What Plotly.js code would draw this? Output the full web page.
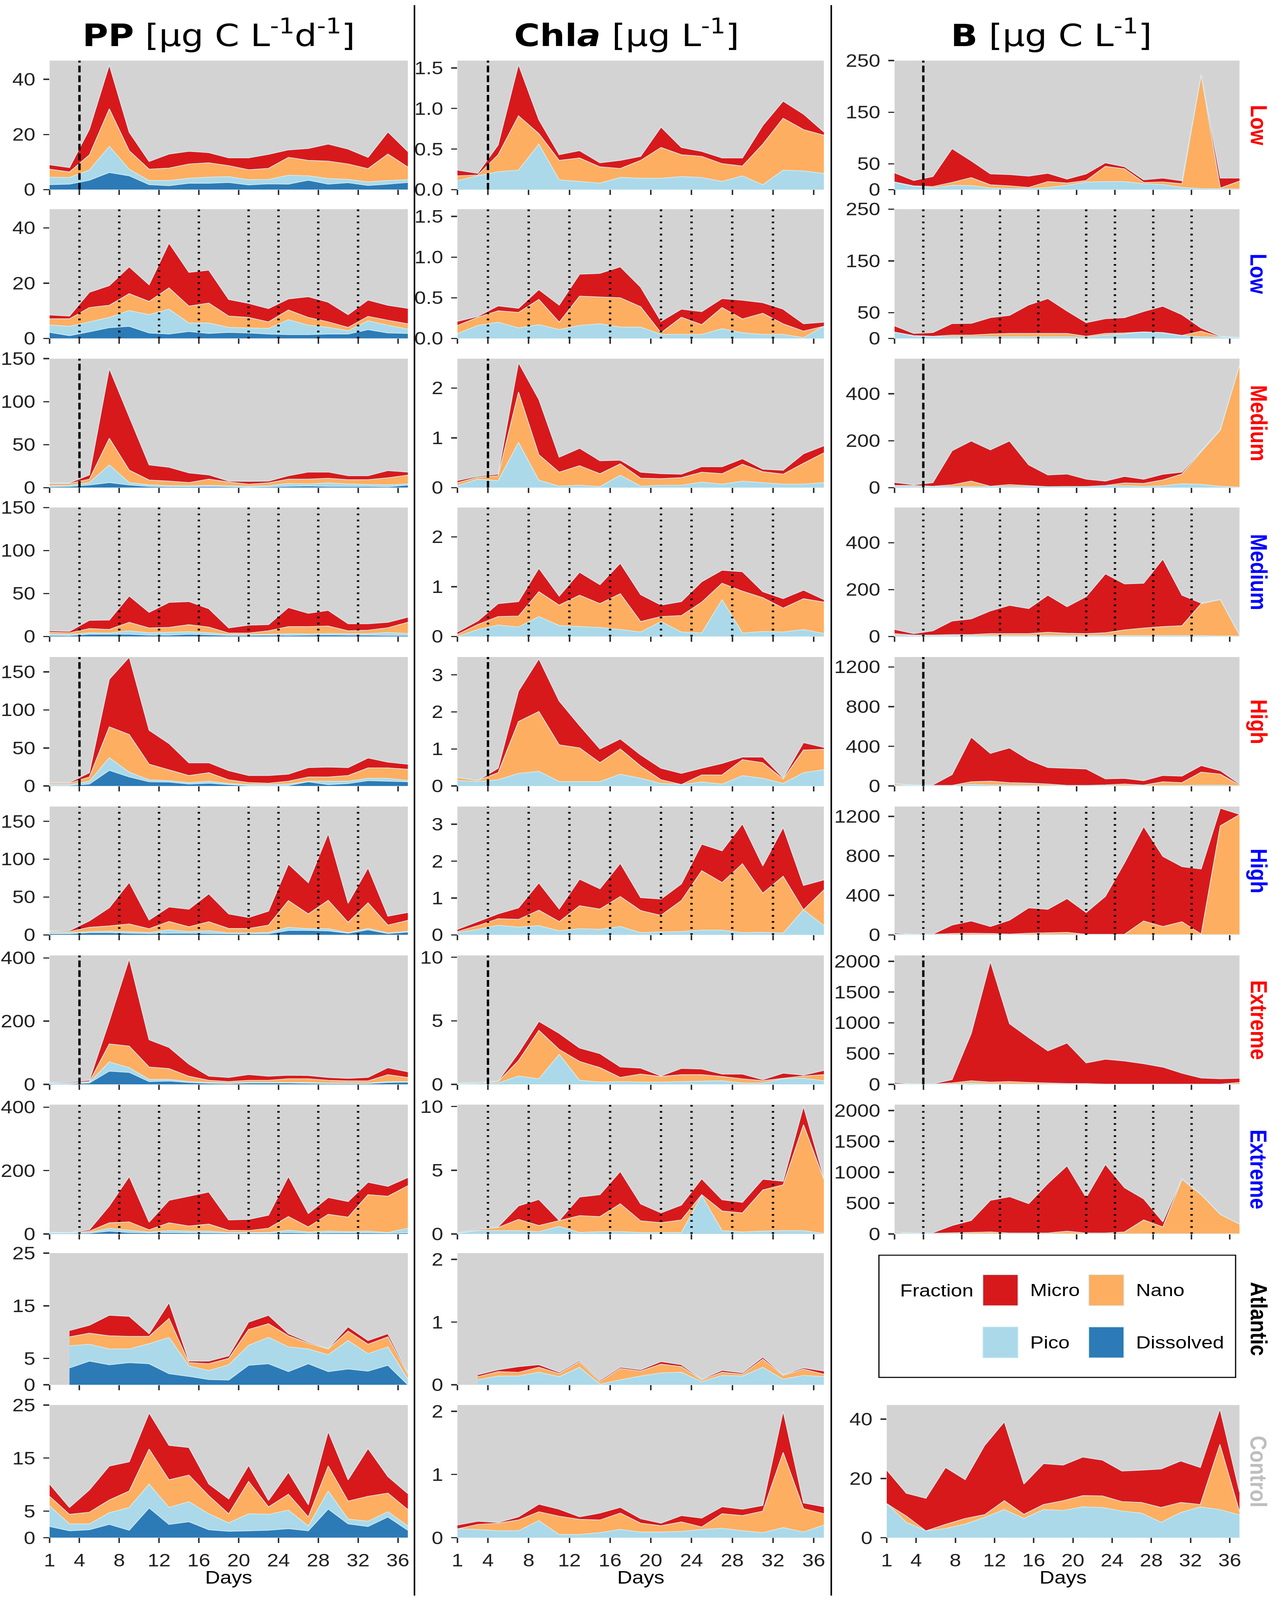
<!DOCTYPE html>
<html>
<head>
<meta charset="utf-8">
<script src="https://cdn.plot.ly/plotly-3.0.1.min.js"></script>
<style>
html,body{margin:0;padding:0;background:#ffffff;overflow:hidden;}
#chart{position:absolute;left:0;top:0;width:3269px;height:4751px;transform-origin:0 0;}
</style>
</head>
<body>
<div id="chart"></div>
<script>
// ---------------- DATA ----------------
const days = [1,3,5,7,9,11,13,15,17,19,21,23,25,27,29,31,33,35,37];
const dayTicks = [1,4,8,12,16,20,24,28,32,36];
const treatments = ['Low','Low','Medium','Medium','High','High','Extreme','Extreme','Atlantic','Control'];
const pulseDays = [4];
const additionDays = [4,8,12,16,21,24,28,32];

// PP [µg C L-1 d-1], rows = treatments (top to bottom)
const PP_Dissolved = [
 [1.8,2.0,3.4,6.2,5.0,1.8,1.4,2.3,2.3,2.6,1.7,2.1,2.0,3.4,2.0,2.5,1.5,2.0,2.6],
 [2.2,1.0,2.4,3.9,4.4,2.0,1.6,2.5,1.8,2.2,2.0,1.6,1.4,1.4,1.6,1.6,3.2,2.0,1.8],
 [1.0,1.3,3.0,5.9,3.0,1.3,1.0,1.0,1.3,1.0,0.7,1.0,1.6,2.0,1.3,1.3,1.3,1.0,3.0],
 [1.3,1.0,2.6,2.6,2.6,1.6,1.6,2.6,2.0,1.3,1.3,1.6,1.3,1.6,2.0,1.6,1.6,1.3,1.3],
 [0.7,0.7,2.6,20.5,11.9,5.6,5.2,2.6,3.7,1.9,0.7,0.7,0.7,5.6,1.9,3.3,7.1,6.3,5.6],
 [1.5,1.5,2.9,2.9,2.2,1.8,2.2,2.2,1.8,1.5,1.5,1.5,5.9,5.9,5.2,2.2,6.6,1.8,3.7],
 [1.8,1.8,4.4,42,38,8.8,10.6,6.2,3.5,2.6,4.4,4.4,4.4,3.5,2.6,2.6,2.6,6.2,7.1],
 [1.8,1.8,2.6,8.8,4.4,3.5,4.4,3.5,3.5,2.6,2.6,2.6,4.4,2.6,3.5,3.5,3.5,2.6,3.5],
 [null,3.2,4.5,3.8,4.2,4.0,2.1,1.6,1.0,0.9,3.7,4.0,2.5,4.0,2.5,3.0,2.6,3.7,0],
 [2.1,1.3,1.5,2.5,1.4,5.6,2.5,3.0,1.5,1.2,1.3,1.4,1.7,1.3,5.4,2.6,2.1,3.9,1.4]
];
const PP_Pico = [
 [2.7,2.4,3.7,9.5,2.4,1.5,1.9,1.8,2.2,2.1,1.9,1.6,3.2,1.6,2.0,1.2,1.3,1.3,1.0],
 [2.7,3.4,3.6,3.7,5.7,6.6,9.0,3.1,3.8,1.8,1.8,2.0,5.4,3.4,2.4,1.2,3.2,2.8,1.6],
 [1.3,1.3,2.9,20.5,2.9,2.0,1.3,1.3,1.3,1.3,0.9,1.3,3.3,2.3,4.3,3.0,2.3,2.3,1.3],
 [1.3,1.3,1.7,1.4,4.0,2.7,3.3,3.0,2.3,1.0,1.0,1.0,2.0,1.4,1.6,1.7,1.7,3.3,2.3],
 [1.2,1.2,3.7,16.7,6.3,2.6,1.9,1.9,2.6,1.4,1.2,1.2,1.9,0.7,4.4,3.0,2.9,3.7,1.8],
 [1.4,1.4,1.5,1.9,2.2,1.1,4.4,2.2,3.7,1.1,1.1,1.8,4.1,2.2,2.9,0.7,1.9,0.8,1.1],
 [0.8,0.8,1.8,29,15,7.2,5.4,2.6,2.7,1.8,1.8,1.8,1.8,2.7,1.8,1.8,1.8,2.6,1.7],
 [0.8,0.8,1.8,9.2,7.1,2.7,6.2,5.3,5.3,1.8,1.8,1.8,7.1,3.6,5.3,3.5,5.3,1.8,14.5],
 [null,4.2,3.2,3.0,2.6,3.8,6.9,2.0,1.7,2.9,3.8,5.0,4.7,2.8,3.2,5.4,3.3,3.5,1.1],
 [3.9,1.3,1.1,2.2,4.3,4.5,3.2,3.8,3.0,1.6,3.2,3.0,3.5,0.9,3.4,0.9,1.0,1.0,0.8]
];
const PP_Nano = [
 [2.9,2.0,5.5,13.6,6.7,4.1,4.5,5.2,5.2,4.0,3.6,4.0,6.5,5.6,6.3,5.6,4.8,9.6,4.6],
 [2.2,2.7,5.2,4.4,6.1,4.8,7.7,6.1,7.2,4.1,3.8,2.4,3.5,2.8,2.0,1.2,1.6,1.8,1.9],
 [2.6,2.3,4.0,31.0,14.5,5.6,5.3,3.6,7.3,4.3,2.4,3.3,5.0,5.6,5.3,4.9,5.6,8.2,10.2],
 [2.3,2.0,4.9,4.2,9.9,5.6,5.7,8.2,6.6,1.7,1.7,4.0,8.2,8.5,8.6,3.3,4.0,5.6,12.9],
 [1.8,1.8,5.6,40.6,49.5,20.5,14.1,9.3,11.2,4.9,2.6,1.8,3.7,5.6,5.6,7.5,13.8,13.8,14.6],
 [1.5,1.5,5.6,7.0,10.0,5.2,11.1,6.3,11.8,5.9,5.9,9.6,35.3,19.5,37.6,13.7,33.9,10.3,14.4],
 [1.8,1.8,2.6,57,68,39,34,17,6.8,4.4,6.8,6.8,11.8,11.8,8.6,6.6,6.6,22,13],
 [1.8,0.9,4.4,17,26.5,6.8,24.4,16.2,22.2,7.1,6.2,13.6,43.5,15.8,53.2,46,115,114.6,134],
 [null,1.7,2.1,2.5,2.4,1.4,3.6,0.6,1.3,1.2,3.0,2.6,2.1,1.1,1.1,1.8,1.8,1.9,0.9],
 [1.8,1.8,2.2,2.4,3.1,6.6,5.2,5.0,3.4,1.7,6.1,1.4,3.0,1.7,4.7,3.4,4.7,3.5,3.1]
];
const PP_Micro = [
 [1.6,1.6,9.3,15.9,6.7,2.8,5.1,4.6,3.7,2.8,4.3,5.1,2.7,4.3,6.2,5.4,4.1,8.0,5.6],
 [1.4,1.0,5.5,7.1,9.7,6.0,16.2,12.2,11.9,6.0,5.1,4.8,4.0,7.5,7.1,4.6,5.9,5.4,5.6],
 [0.7,0.7,4.9,81.1,62.0,17.5,16.1,11.2,4.9,1.0,3.3,2.0,3.9,8.2,7.2,4.6,4.6,8.3,3.6],
 [1.7,1.6,9.6,10.9,30.6,18.1,29.0,26.8,21.4,5.9,9.2,7.2,22.1,15.5,18.1,8.2,7.5,6.3,5.9],
 [0.8,0.8,5.6,62.5,101.6,44.6,34.6,16.7,13.0,11.9,9.3,10.1,9.3,12.3,13.0,10.4,13.0,7.5,6.7],
 [0.8,1.1,8.4,24.0,54.9,11.4,19.2,23.2,36.9,19.1,14.4,18.4,48.0,41.3,88.1,25.1,46.1,11.8,10.3],
 [1.6,2.6,4.2,72,276,86,67,38,13,13,18,13,11,10,9,8,11,22,18],
 [1.6,0.9,4.2,53,143,24,71,94,101,32.5,35.4,41,126,42,53,49,39,31,26],
 [null,1.2,1.5,3.9,3.8,0.5,3.0,0.3,0.5,0.5,1.4,1.6,0.4,0.2,0.1,0.8,0.7,0.6,0.3],
 [2.3,1.3,4.2,6.4,5.5,6.8,6.5,5.2,2.2,2.8,3.0,1.2,4.1,2.3,6.5,4.0,9.0,3.1,3.0]
];

// Chla [µg L-1]
const Chla_Pico = [
 [0.11,0.17,0.22,0.24,0.56,0.12,0.10,0.08,0.15,0.14,0.14,0.16,0.15,0.10,0.17,0.06,0.24,0.23,0.20],
 [0.06,0.16,0.20,0.13,0.17,0.11,0.16,0.18,0.14,0.14,0.05,0.05,0.05,0.12,0.07,0.05,0.05,0.01,0.15],
 [0.04,0.17,0.14,0.91,0.15,0.03,0.05,0.02,0.25,0.03,0.05,0.05,0.11,0.07,0.13,0.10,0.07,0.07,0.10],
 [0.00,0.14,0.23,0.19,0.40,0.22,0.20,0.18,0.14,0.09,0.30,0.09,0.07,0.74,0.07,0.10,0.09,0.14,0.06],
 [0.15,0.12,0.17,0.34,0.40,0.12,0.12,0.12,0.32,0.21,0.07,0.04,0.11,0.05,0.28,0.21,0.07,0.36,0.44],
 [0.06,0.15,0.26,0.21,0.25,0.11,0.17,0.15,0.23,0.06,0.08,0.09,0.13,0.13,0.06,0.07,0.05,0.68,0.25],
 [0.04,0.07,0.11,0.66,0.44,2.36,0.33,0.18,0.22,0.18,0.18,0.22,0.26,0.29,0.11,0.11,0.44,0.48,0.29],
 [0.04,0.26,0.26,0.26,0.18,0.59,0.11,0.18,0.18,0.11,0.11,0.11,3.01,0.26,0.15,0.22,0.26,0.26,0.04],
 [null,0.08,0.14,0.14,0.20,0.13,0.28,0.01,0.08,0.14,0.19,0.20,0.05,0.15,0.14,0.28,0.09,0.15,0.13],
 [0.14,0.13,0.11,0.11,0.27,0.05,0.05,0.08,0.13,0.09,0.09,0.10,0.13,0.15,0.11,0.08,0.16,0.09,0.20]
];
const Chla_Nano = [
 [0.06,0.01,0.21,0.67,0.13,0.24,0.29,0.20,0.11,0.22,0.38,0.27,0.26,0.22,0.12,0.50,0.64,0.51,0.47],
 [0.10,0.10,0.14,0.19,0.31,0.09,0.36,0.33,0.36,0.25,0.02,0.21,0.12,0.26,0.17,0.26,0.13,0.08,0.00],
 [0.06,0.04,0.10,1.01,0.51,0.28,0.39,0.26,0.23,0.16,0.13,0.15,0.20,0.21,0.34,0.22,0.20,0.42,0.60],
 [0.04,0.10,0.17,0.22,0.50,0.41,0.63,0.48,0.72,0.21,0.10,0.33,0.62,0.33,0.84,0.68,0.48,0.62,0.63],
 [0.08,0.03,0.19,1.40,1.61,0.99,0.91,0.51,0.68,0.33,0.10,0.00,0.19,0.25,0.43,0.42,0.12,0.61,0.55],
 [0.03,0.10,0.18,0.21,0.42,0.25,0.62,0.55,0.81,0.60,0.45,0.84,1.61,1.29,1.87,1.06,1.54,0.00,0.97],
 [0.05,0.06,0.11,1.21,3.81,0.39,1.48,1.14,0.33,0.63,0.44,0.55,0.51,0.33,0.33,0.18,0.04,0.18,0.48],
 [0.03,0.07,0.25,0.88,0.48,0.46,1.32,1.18,2.19,0.92,0.77,0.99,0.07,1.54,1.50,3.23,3.59,8.31,4.25],
 [null,0.05,0.07,0.06,0.08,0.05,0.09,0.04,0.18,0.08,0.14,0.09,0.03,0.05,0.03,0.13,0.06,0.10,0.04],
 [0.00,0.08,0.12,0.17,0.14,0.29,0.24,0.20,0.26,0.14,0.10,0.15,0.04,0.23,0.24,0.34,1.19,0.37,0.18]
];
const Chla_Micro = [
 [0.07,0.02,0.12,0.63,0.17,0.07,0.09,0.05,0.10,0.05,0.25,0.09,0.06,0.07,0.10,0.23,0.21,0.19,0.04],
 [0.05,0.01,0.06,0.05,0.12,0.21,0.27,0.29,0.38,0.24,0.14,0.10,0.16,0.11,0.23,0.13,0.18,0.09,0.05],
 [0.04,0.02,0.03,0.59,1.11,0.30,0.35,0.26,0.07,0.12,0.10,0.07,0.11,0.14,0.11,0.05,0.08,0.19,0.14],
 [0.05,0.07,0.26,0.29,0.47,0.18,0.46,0.38,0.61,0.54,0.23,0.28,0.41,0.26,0.39,0.12,0.19,0.17,0.05],
 [0.00,0.00,0.12,0.82,1.42,1.18,0.60,0.37,0.27,0.30,0.31,0.30,0.18,0.31,0.07,0.15,0.03,0.20,0.05],
 [0.06,0.11,0.13,0.31,0.74,0.34,0.72,0.55,0.90,0.35,0.44,0.45,0.72,0.86,1.08,0.74,1.32,0.66,0.27],
 [0.02,0.05,0.04,0.60,0.71,1.26,1.05,1.10,0.82,0.47,0.04,0.49,0.44,0.19,0.37,0.08,0.40,0.07,0.33],
 [0.04,0.07,0.04,1.06,2.04,0.00,1.47,1.72,2.53,1.32,0.77,1.16,1.25,0.88,0.83,0.84,0.28,1.43,0.11],
 [null,0.03,0.03,0.09,0.04,0.02,0.02,0.02,0.02,0.02,0.04,0.03,0.01,0.03,0.02,0.03,0.01,0.02,0.05],
 [0.06,0.05,0.01,0.05,0.12,0.11,0.04,0.11,0.09,0.07,0.04,0.10,0.14,0.11,0.10,0.09,0.65,0.09,0.11]
];

// B [µg C L-1] (no Atlantic row)
const B_Pico = [
 [14.0,6.3,3.4,8.4,8.0,3.0,2.0,2.0,4.2,8.4,14.8,15.6,15.6,11.4,9.7,4.2,2.0,1.3,1.3],
 [11.9,4.2,3.4,3.0,3.0,3.0,3.0,3.0,3.0,3.0,2.1,6.4,8.5,12.3,10.6,5.5,3.0,2.1,1.3],
 [8,4,4,4,4,4,4,4,4,4,5,8,8,5,8,17,14,6,2],
 [6,4,4,4,4,4,4,4,4,4,4,4,4,4,4,4,4,2,2],
 [5,3,3,3,15,10,8,8,5,3,3,3,3,3,5,5,8,8,3],
 [3,2,2,3,3,3,3,3,3,3,2,2,2,3,3,3,3,3,3],
 [3,2,2,5,20,8,5,5,5,3,3,3,3,3,3,3,3,3,3],
 [3,2,2,3,3,3,3,3,3,3,3,3,3,3,3,3,3,3,3],
 null,
 [11.5,5.2,2.3,3.1,4.6,6.9,9.5,6.5,9.5,9.2,10.4,10.2,9.0,8.3,5.2,8.5,10.4,9.5,7.7]
];
const B_Nano = [
 [0.8,0.9,2.5,5.5,15.2,6.3,5.2,2.2,11.4,4.3,2.9,29.5,24.5,2.5,5.1,7.2,220,1.7,15.2],
 [0.5,1.3,0.8,3.4,3.4,5.5,6.7,6.7,6.7,6.7,2.1,3.3,2.1,0.4,0.8,0.5,11.0,0.9,0.0],
 [1,5,2,8,24,2,9,5,0,1,0,1,12,13,25,41,139,239,519],
 [6,2,2,4,4,8,8,8,14,10,8,12,24,32,38,42,136,155,4],
 [15,3,3,3,28,39,26,21,15,3,3,8,17,6,38,29,132,112,8],
 [5,4,4,11,14,11,5,14,17,22,4,4,4,138,82,130,5,1102,1215],
 [6,3,3,18,39,28,40,27,18,11,11,2,2,2,2,2,2,2,29],
 [15,7,7,15,20,29,11,11,11,42,11,11,29,224,110,881,632,312,154],
 null,
 [0.0,2.1,0.0,1.4,1.9,0.9,3.0,1.4,1.7,3.3,3.8,3.9,3.2,3.6,5.0,3.4,0.8,22.0,1.1]
];
const B_Micro = [
 [17.7,10.5,19.4,65.4,32.5,21.1,21.9,22.0,16.0,7.6,12.7,6.8,4.2,5.1,7.6,5.5,0.8,19.4,5.9],
 [11.8,4.2,7.2,22.4,22.8,31.8,34.8,55.1,67.4,43.2,26.3,28.4,29.7,39.4,50.9,39.8,5.9,1.2,0.8],
 [13,3,15,145,171,155,186,88,50,53,31,19,28,18,24,8,4,3,2],
 [18,6,18,58,67,97,121,107,158,113,158,251,196,191,288,130,2,1,0],
 [6,5,5,108,449,280,350,234,166,174,166,61,57,45,63,66,66,35,9],
 [12,0,2,85,124,71,141,257,239,342,220,383,724,956,710,558,660,178,3],
 [23,4,4,54,766,1959,940,727,521,657,335,403,376,331,276,176,99,86,68],
 [14,5,9,118,195,512,589,476,802,1057,576,1111,716,340,82,14,9,2,2],
 null,
 [11.3,7.7,11.0,19.2,13.1,23.4,26.6,10.2,13.8,12.0,13.0,12.1,10.3,10.9,13.0,14.0,12.5,12.0,6.6]
];

// y-axis upper limits and tick values per row
const PP_yMax = [46.8,46.8,150,150,169.5,169.5,408,408,25,25];
const PP_yTicks = [[0,20,40],[0,20,40],[0,50,100,150],[0,50,100,150],[0,50,100,150],[0,50,100,150],[0,200,400],[0,200,400],[0,5,15,25],[0,5,15,25]];
const Chla_yMax = [1.59,1.59,2.59,2.59,3.48,3.48,10.15,10.15,2.1,2.1];
const Chla_yTicks = [[0,0.5,1,1.5],[0,0.5,1,1.5],[0,1,2],[0,1,2],[0,1,2,3],[0,1,2,3],[0,5,10],[0,5,10],[0,1,2],[0,1,2]];
const B_yMax = [250,250,550,550,1300,1300,2095,2095,null,44.8];
const B_yTicks = [[0,50,150,250],[0,50,150,250],[0,200,400],[0,200,400],[0,400,800,1200],[0,400,800,1200],[0,500,1000,1500,2000],[0,500,1000,1500,2000],null,[0,20,40]];

// ---------------- LAYOUT / DRAWING ----------------
const RW = 3269, RH = 4751;   // figure size of the original chart
const chartDiv = document.getElementById('chart');
// fit the full figure into the actual window
const vw = window.innerWidth || RW, vh = window.innerHeight || RH;
chartDiv.style.transform = 'scale(' + (vw / RW) + ',' + (vh / RH) + ')';

const rowTop = [180,621,1065,1507,1951,2395,2837,3280,3721,4172];
const rowBot = [563,1005,1448,1890,2334,2776,3220,3664,4112,4566];
const colors = {Dissolved:'#2C7BB6', Pico:'#ABD9E9', Nano:'#FDAE61', Micro:'#D7191C'};
const edge = '#D4EEF4';
const stackOrder = ['Dissolved','Pico','Nano','Micro'];
const tickFont = {family:'Liberation Sans, Arial, sans-serif', size:53, color:'#222222'};
const px = v => v / RW, py = v => 1 - v / RH;

const columns = [
  {x:[127,1044], series:{Dissolved:PP_Dissolved, Pico:PP_Pico, Nano:PP_Nano, Micro:PP_Micro}, yMax:PP_yMax, yTicks:PP_yTicks, fmt:[]},
  {x:[1171,2109], series:{Pico:Chla_Pico, Nano:Chla_Nano, Micro:Chla_Micro}, yMax:Chla_yMax, yTicks:Chla_yTicks, fmt:[0,1]},
  {x:[2290,3173], series:{Pico:B_Pico, Nano:B_Nano, Micro:B_Micro}, yMax:B_yMax, yTicks:B_yTicks, fmt:[]}
];

const traces = [], shapes = [], annotations = [];
const layout = {
  width: RW, height: RH, autosize: false,
  margin: {l:0, r:0, t:0, b:0, pad:0},
  paper_bgcolor: '#ffffff',
  plot_bgcolor: '#D3D3D3',
  showlegend: false,
  font: {family:'Liberation Sans, Arial, sans-serif', color:'#000'}
};

let n = 0;
columns.forEach((col, ci) => {
  for (let r = 0; r < 10; r++) {
    if (col.yMax[r] === null) continue;
    n++;
    const s = n === 1 ? '' : String(n);
    const xName = 'x' + s, yName = 'y' + s;
    const x0 = (ci === 2 && r === 9) ? 2270 : col.x[0];
    layout['xaxis' + s] = {
      domain: [px(x0), px(col.x[1])], range: [1, 37], anchor: yName,
      tickmode: 'array', tickvals: dayTicks, ticks: 'outside', ticklen: 15, tickwidth: 4, tickcolor: '#333333',
      showticklabels: r === 9, tickfont: tickFont, ticklabelstandoff: 6,
      showgrid: false, zeroline: false, showline: false, fixedrange: true
    };
    const yax = {
      domain: [py(rowBot[r]), py(rowTop[r])], range: [0, col.yMax[r]], anchor: xName,
      tickmode: 'array', tickvals: col.yTicks[r], ticks: 'outside', ticklen: 15, tickwidth: 4, tickcolor: '#333333',
      tickfont: tickFont, ticklabelstandoff: 10,
      showgrid: false, zeroline: false, showline: false, fixedrange: true
    };
    if (col.fmt.indexOf(r) >= 0) yax.tickformat = '.1f';
    layout['yaxis' + s] = yax;

    stackOrder.forEach(f => {
      const tbl = col.series[f];
      if (!tbl || !tbl[r]) return;
      const xx = [], yy = [];
      tbl[r].forEach((v, i) => { if (v !== null) { xx.push(days[i]); yy.push(v); } });
      traces.push({
        type: 'scatter', mode: 'lines', x: xx, y: yy, xaxis: xName, yaxis: yName,
        stackgroup: 'g' + n, fillcolor: colors[f], line: {color: edge, width: 2},
        name: f, showlegend: false, hoverinfo: 'skip'
      });
    });

    if (r < 8) {
      const red = r % 2 === 0;
      (red ? pulseDays : additionDays).forEach(d => {
        shapes.push({
          type: 'line', xref: xName, yref: yName + ' domain', x0: d, x1: d, y0: 0, y1: 1, layer: 'above',
          line: {color: '#000000', width: 6, dash: red ? '20px,9px' : '5px,13px'}
        });
      });
    }
  }
});

// strip labels
const stripColors = ['#FF0000','#0000FF','#FF0000','#0000FF','#FF0000','#0000FF','#FF0000','#0000FF','#000000','#BEBEBE'];
treatments.forEach((t, r) => {
  annotations.push({
    xref: 'paper', yref: 'paper', x: px(3222), y: py((rowTop[r] + rowBot[r]) / 2),
    text: '<b>' + t + '</b>', textangle: 90, showarrow: false, xanchor: 'center', yanchor: 'middle',
    font: {family: 'Liberation Sans, Arial, sans-serif', size: 60, color: stripColors[r]}
  });
});

// column titles
const titleFont = {family: 'DejaVu Sans, Verdana, sans-serif', size: 90, color: '#000'};
[
  [560, '<b>PP</b> [μg C L<sup>-1</sup>d<sup>-1</sup>]'],
  [1604, '<b>Chl<i>a</i></b> [μg L<sup>-1</sup>]'],
  [2691, '<b>B</b> [μg C L<sup>-1</sup>]']
].forEach(([x, t]) => {
  annotations.push({xref:'paper', yref:'paper', x: px(x), y: py(100), text: t, showarrow: false,
    xanchor: 'center', yanchor: 'middle', font: titleFont});
});

// x-axis titles
[585.5, 1640, 2721].forEach(x => {
  annotations.push({xref:'paper', yref:'paper', x: px(x), y: py(4683), text: 'Days', showarrow: false,
    xanchor: 'center', yanchor: 'middle', font: {family: 'Liberation Sans, Arial, sans-serif', size: 53, color: '#000'}});
});

// column dividers
[1061, 2128].forEach(x => {
  shapes.push({type: 'line', xref: 'paper', yref: 'paper', x0: px(x), x1: px(x), y0: py(15), y1: py(4738),
    line: {color: '#000', width: 4}});
});

// legend box
shapes.push({type: 'rect', xref: 'paper', yref: 'paper', x0: px(2250), x1: px(3163), y0: py(3727), y1: py(4090),
  line: {color: '#000', width: 3}, fillcolor: 'rgba(0,0,0,0)'});
const legFont = {family: 'Liberation Sans, Arial, sans-serif', size: 52, color: '#000'};
annotations.push({xref:'paper', yref:'paper', x: px(2302), y: py(3832), text: 'Fraction', showarrow: false,
  xanchor: 'left', yanchor: 'middle', font: legFont});
[
  ['Micro', 2516, 3785],
  ['Nano', 2787, 3785],
  ['Pico', 2516, 3940],
  ['Dissolved', 2787, 3940]
].forEach(([f, x, y]) => {
  shapes.push({type: 'rect', xref: 'paper', yref: 'paper', x0: px(x), x1: px(x + 90), y0: py(y), y1: py(y + 92),
    line: {color: edge, width: 2}, fillcolor: colors[f]});
  annotations.push({xref:'paper', yref:'paper', x: px(x + 119), y: py(y + 46), text: f, showarrow: false,
    xanchor: 'left', yanchor: 'middle', font: legFont});
});

layout.shapes = shapes;
layout.annotations = annotations;

Plotly.newPlot('chart', traces, layout, {staticPlot: true, displayModeBar: false});
</script>
</body>
</html>
